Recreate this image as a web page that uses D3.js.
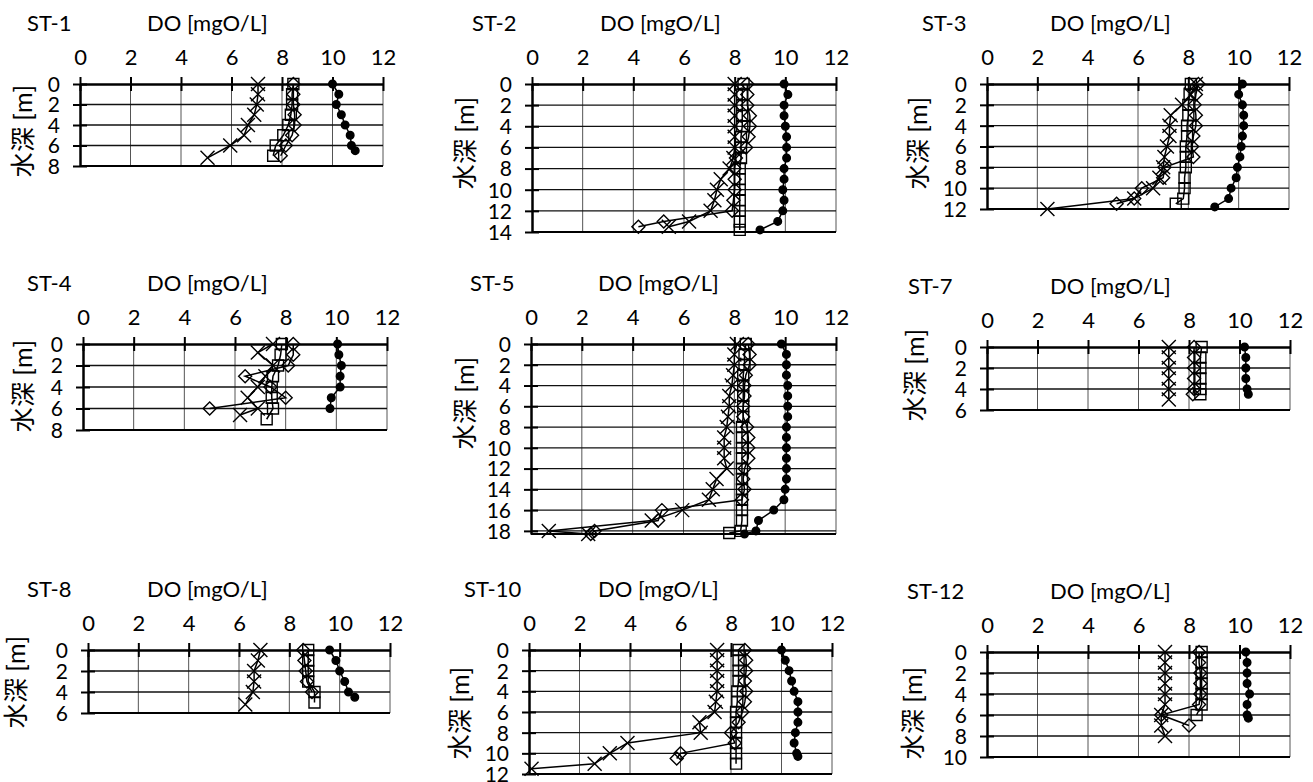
<!DOCTYPE html>
<html>
<head>
<meta charset="utf-8">
<script src="https://cdn.jsdelivr.net/npm/d3@7"></script>
<style>
  body { margin: 0; background: #fff; overflow: hidden; }
  text { font-family: Lato, "Noto Sans CJK JP", sans-serif; fill: #000; }
</style>
</head>
<body>
<div id="viz"></div>
<script>
// Data: DO profiles, each point is [depth m, DO mgO/L]
const stationNames = ["ST-1", "ST-2", "ST-3", "ST-4", "ST-5", "ST-7", "ST-8", "ST-10", "ST-12"];
const depthMax = [8, 14, 12, 8, 18.3, 6, 6, 12, 10];
const doTicks = [0, 2, 4, 6, 8, 10, 12];

// x marker series
const crossDO = [
  [[0,7.05],[1,7.05],[2,7.0],[3,6.9],[4,6.65],[5,6.5],[6,5.95],[7.2,5.05]],
  [[0,8.0],[1,8.0],[2,8.0],[3,8.0],[4,8.0],[5,8.0],[6,8.0],[7,7.95],[8,7.8],[9,7.45],[10,7.3],[11,7.2],[12,7.05],[13,6.2],[13.5,5.4]],
  [[0,8.3],[1,8.1],[2,7.75],[3,7.3],[4,7.25],[5,7.25],[6,7.15],[7,7.05],[8,7.0],[9,6.85],[10,6.6],[11,5.85],[12,2.4]],
  [[0,7.5],[0.8,6.9],[2,7.5],[3,7.2],[4,6.9],[5,6.5],[6,6.9],[6.6,6.2]],
  [[0,8.1],[1,8.0],[2,8.0],[3,7.95],[4,7.9],[5,7.8],[6,7.8],[7,7.75],[8,7.7],[9,7.6],[10,7.6],[11,7.6],[12,7.7],[13,7.3],[14,7.15],[15,7.0],[16,5.95],[17,4.75],[18,0.7],[18.3,2.25]],
  [[0,7.2],[1,7.2],[2,7.2],[3,7.2],[4,7.2],[5,7.2]],
  [[0,6.85],[1,6.75],[2,6.6],[3,6.6],[4,6.55],[5.2,6.25]],
  [[0,7.45],[1,7.45],[2,7.45],[3,7.45],[4,7.45],[5,7.4],[6,7.35],[7,6.75],[8,6.8],[9,3.9],[10,3.2],[11,2.6],[11.5,0.1]],
  [[0,7.05],[1,7.05],[2,7.05],[3,7.05],[4,7.05],[5,7.05],[6,6.9],[7,6.9],[8,7.05]]
];

// open diamond series
const diamondDO = [
  [[0,8.45],[1,8.45],[2,8.45],[3,8.5],[4,8.5],[5,8.4],[6,8.15],[7,7.95]],
  [[0,8.5],[1,8.5],[2,8.5],[3,8.6],[4,8.6],[5,8.55],[6,8.45],[7,8.05],[8,8.0],[9,8.0],[10,8.0],[11,7.95],[12,7.9],[13,5.2],[13.5,4.2]],
  [[0,8.4],[1,8.3],[2,8.25],[3,8.3],[4,8.3],[5,8.2],[6,8.15],[7,8.2],[8,7.05],[9,7.0],[10,6.15],[11,5.85],[11.5,5.15]],
  [[0,8.3],[1,8.3],[2,8.1],[3,6.4],[4,7.4],[5,8.0],[6,5.0]],
  [[0,8.55],[1,8.6],[2,8.6],[3,8.45],[4,8.4],[5,8.4],[6,8.35],[7,8.35],[8,8.5],[9,8.55],[10,8.55],[11,8.55],[12,8.4],[13,8.35],[14,8.4],[15,8.3],[16,5.15],[17,5.0],[18,2.5],[18.3,2.35]],
  [[0,8.2],[1,8.2],[2,8.2],[3,8.2],[4,8.2],[4.5,8.15]],
  [[0,8.55],[1,8.6],[2,8.65],[3,8.7],[4,8.9]],
  [[0,8.55],[1,8.6],[2,8.6],[3,8.55],[4,8.6],[5,8.55],[6,8.45],[7,8.3],[8,8.0],[9,8.15],[10,6.0],[10.5,5.85]],
  [[0,8.4],[1,8.4],[2,8.45],[3,8.45],[4,8.45],[5,8.4],[6,6.9],[7,8.0]]
];

// open square series
const squareDO = [
  [[0,8.45],[1,8.4],[2,8.4],[3,8.35],[4,8.25],[5,8.05],[6,7.75],[7,7.65]],
  [[0,8.35],[1,8.3],[2,8.3],[3,8.3],[4,8.3],[5,8.25],[6,8.25],[7,8.25],[8,8.2],[9,8.2],[10,8.2],[11,8.2],[12,8.2],[13,8.2],[13.8,8.2]],
  [[0,8.1],[1,8.05],[2,8.0],[3,8.0],[4,7.95],[5,7.95],[6,7.9],[7,7.9],[8,7.9],[9,7.85],[10,7.85],[11,7.8],[11.5,7.5]],
  [[0,7.85],[1,7.8],[2,7.7],[3,7.5],[4,7.45],[5,7.45],[6,7.5],[7,7.25]],
  [[0,8.45],[1,8.4],[2,8.4],[3,8.35],[4,8.35],[5,8.35],[6,8.35],[7,8.35],[8,8.3],[9,8.3],[10,8.3],[11,8.3],[12,8.3],[13,8.3],[14,8.3],[15,8.3],[16,8.3],[17,8.3],[18,8.25],[18.2,7.8]],
  [[0,8.5],[1,8.45],[2,8.45],[3,8.45],[4,8.45],[4.5,8.45]],
  [[0,8.75],[1,8.75],[2,8.75],[3,8.75],[4,9.0],[5,9.0]],
  [[0,8.3],[1,8.3],[2,8.3],[3,8.3],[4,8.25],[5,8.25],[6,8.2],[7,8.2],[8,8.2],[9,8.2],[10,8.2],[11,8.2]],
  [[0,8.5],[1,8.5],[2,8.5],[3,8.5],[4,8.5],[5,8.5],[6,8.3]]
];

// filled circle series
const circleDO = [
  [[0,10.0],[1,10.25],[2,10.15],[3,10.35],[4,10.5],[5,10.7],[6,10.75],[6.5,10.9]],
  [[0,9.95],[1,10.1],[2,9.95],[3,9.95],[4,10.0],[5,10.05],[6,10.05],[7,10.05],[8,9.95],[9,9.95],[10,9.9],[11,9.95],[12,9.9],[13,9.7],[13.8,9.0]],
  [[0,10.15],[1,10.0],[2,10.15],[3,10.2],[4,10.2],[5,10.15],[6,10.1],[7,10.05],[8,9.95],[9,9.9],[10,9.7],[11,9.6],[11.8,9.05]],
  [[0,10.05],[1,10.1],[2,10.2],[3,10.15],[4,10.15],[5,9.8],[6,9.75]],
  [[0,9.85],[1,10.05],[2,10.05],[3,10.05],[4,10.1],[5,10.1],[6,10.1],[7,10.1],[8,10.05],[9,10.05],[10,10.05],[11,10.05],[12,10.05],[13,10.05],[14,10.0],[15,9.95],[16,9.55],[17,8.95],[18,8.85],[18.3,8.4]],
  [[0,10.2],[1,10.25],[2,10.25],[3,10.25],[4,10.3],[4.5,10.35]],
  [[0,9.6],[1,9.85],[2,10.0],[3,10.2],[4,10.35],[4.5,10.6]],
  [[0,10.0],[1,10.15],[2,10.3],[3,10.4],[4,10.5],[5,10.65],[6,10.65],[7,10.65],[8,10.55],[9,10.5],[10,10.6],[10.3,10.65]],
  [[0,10.25],[1,10.3],[2,10.3],[3,10.3],[4,10.4],[5,10.3],[6,10.3],[6.3,10.35]]
];

// panel placement on the page
const panelBoxes = [
  { left: 80,  top: 84,  width: 303, height: 82,  stX: 27,  doX: 147,  labX: 23,  labY: 131 },
  { left: 532, top: 84,  width: 304, height: 148, stX: 472, doX: 600,  labX: 465, labY: 143 },
  { left: 987, top: 84,  width: 302, height: 125, stX: 922, doX: 1050, labX: 918, labY: 143 },
  { left: 83,  top: 344, width: 304, height: 86,  stX: 27,  doX: 147,  labX: 23,  labY: 386 },
  { left: 531, top: 344, width: 305, height: 190, stX: 470, doX: 598,  labX: 465, labY: 403 },
  { left: 987, top: 347, width: 303, height: 63,  stX: 908, doX: 1050, labX: 915, labY: 375 },
  { left: 88,  top: 650, width: 302, height: 63,  stX: 27,  doX: 147,  labX: 16,  labY: 682 },
  { left: 529, top: 650, width: 303, height: 124, stX: 464, doX: 598,  labX: 460, labY: 713 },
  { left: 987, top: 652, width: 303, height: 105, stX: 907, doX: 1050, labX: 913, labY: 713 }
];

const markTypes = {
  cross:   { draw(c, r) { c.moveTo(-r, -r); c.lineTo(r, r); c.moveTo(-r, r); c.lineTo(r, -r); } },
  diamond: { draw(c, r) { c.moveTo(0, -r); c.lineTo(r, 0); c.lineTo(0, r); c.lineTo(-r, 0); c.closePath(); } },
  square:  { draw(c, r) { c.rect(-r, -r, 2 * r, 2 * r); } },
  dot:     { draw(c, r) { c.moveTo(r, 0); c.arc(0, 0, r, 0, 2 * Math.PI); } }
};

const seriesList = [
  { data: crossDO,   type: markTypes.cross,   r: 7,   fill: "none" },
  { data: diamondDO, type: markTypes.diamond, r: 6.5, fill: "none" },
  { data: squareDO,  type: markTypes.square,  r: 5.5, fill: "none" },
  { data: circleDO,  type: markTypes.dot,     r: 3.8, fill: "#000" }
];

const svg = d3.select("#viz")
  .append("svg")
  .attr("width", 1313)
  .attr("height", 782);

stationNames.forEach((name, i) => {
  const b = panelBoxes[i];
  const g = svg.append("g").attr("transform", `translate(${b.left},${b.top})`);

  const x = d3.scaleLinear().domain([0, 12]).range([0, b.width]);
  const y = d3.scaleLinear().domain([0, depthMax[i]]).range([0, b.height]);
  const depthTicks = d3.range(0, depthMax[i] + 0.01, 2);

  // gridlines
  g.append("g").selectAll("line")
    .data(doTicks.slice(1))
    .join("line")
    .attr("x1", d => x(d)).attr("x2", d => x(d))
    .attr("y1", 0).attr("y2", b.height)
    .attr("stroke", "#555").attr("stroke-width", 1);

  g.append("g").selectAll("line")
    .data(depthTicks.slice(1))
    .join("line")
    .attr("x1", 0).attr("x2", b.width)
    .attr("y1", d => y(d)).attr("y2", d => y(d))
    .attr("stroke", "#111").attr("stroke-width", 1.3);

  // bottom edge of plot
  g.append("line")
    .attr("x1", 0).attr("x2", b.width)
    .attr("y1", b.height).attr("y2", b.height)
    .attr("stroke", "#000").attr("stroke-width", 1.8);

  // series: line then markers
  seriesList.forEach(s => {
    const pts = s.data[i];
    const line = d3.line().x(d => x(d[1])).y(d => y(d[0]));
    g.append("path")
      .datum(pts)
      .attr("d", line)
      .attr("fill", "none")
      .attr("stroke", "#000")
      .attr("stroke-width", 1.5);
    const sym = d3.symbol().type(s.type).size(s.r);
    g.append("g").selectAll("path")
      .data(pts)
      .join("path")
      .attr("transform", d => `translate(${x(d[1])},${y(d[0])})`)
      .attr("d", sym)
      .attr("fill", s.fill)
      .attr("stroke", "#000")
      .attr("stroke-width", 1.4);
  });

  // top x axis (DO)
  g.append("g")
    .attr("font-size", null).attr("font-family", null)
    .call(d3.axisTop(x).tickValues(doTicks).tickFormat(d3.format("d")).tickSize(7).tickSizeOuter(0))
    .call(a => a.select(".domain").attr("stroke-width", 2.5))
    .call(a => a.selectAll(".tick line").attr("y1", -7).attr("y2", 7).attr("stroke-width", 2))
    .call(a => a.selectAll(".tick text")
      .attr("y", -27).attr("dy", "0.35em")
      .style("font-size", "22px"));

  // left y axis (depth)
  g.append("g")
    .attr("font-size", null).attr("font-family", null)
    .call(d3.axisLeft(y).tickValues(depthTicks).tickFormat(d3.format("d")).tickSize(7).tickSizeOuter(0))
    .call(a => a.select(".domain").attr("stroke-width", 2.5))
    .call(a => a.selectAll(".tick line").attr("x1", -7).attr("x2", 7).attr("stroke-width", 2))
    .call(a => a.selectAll(".tick text")
      .attr("x", -20).attr("dy", "0.35em")
      .style("font-size", "21px"));

  // titles
  svg.append("text")
    .attr("x", b.stX).attr("y", b.top - 61).attr("dy", "0.35em")
    .style("font-size", "22px")
    .text(name);
  svg.append("text")
    .attr("x", b.doX).attr("y", b.top - 61).attr("dy", "0.35em")
    .style("font-size", "22px")
    .text("DO [mgO/L]");

  svg.append("text")
    .attr("transform", `translate(${b.labX},${b.labY}) rotate(-90)`)
    .attr("text-anchor", "middle")
    .attr("dy", "0.35em")
    .style("font-size", "25px")
    .text("水深 [m]");
});
</script>
</body>
</html>
